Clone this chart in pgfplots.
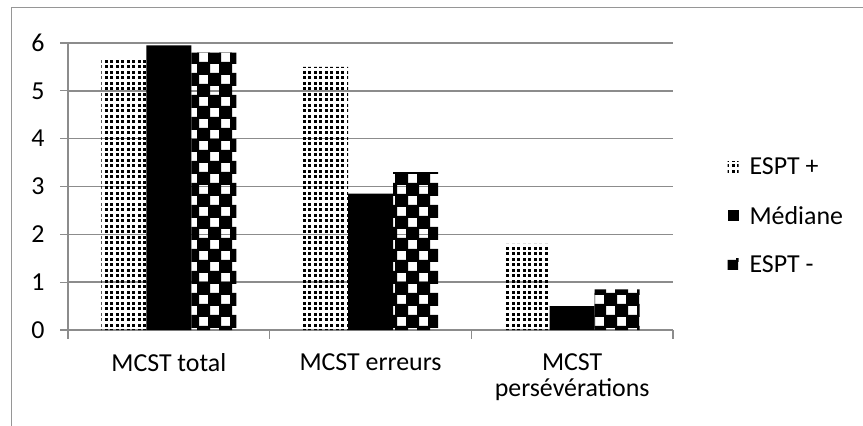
\documentclass[border=0pt]{standalone}
\usepackage{pgfplots}
\pgfplotsset{compat=1.18}
\usepackage{fontspec}
\setmainfont{Carlito}
\usetikzlibrary{patterns}

\definecolor{gridgray}{RGB}{140,140,140}
\definecolor{framegray}{RGB}{150,150,150}

% small dots, as in the ESPT + bars
\pgfdeclarepatternformonly{smalldots}{\pgfpoint{-1bp}{-1bp}}{\pgfpoint{6.5bp}{6.5bp}}{\pgfpoint{5.5bp}{5.5bp}}{
  \pgfpathrectangle{\pgfpoint{0bp}{0bp}}{\pgfpoint{3.1bp}{3.1bp}}
  \pgfusepath{fill}}
% large checkerboard, as in the ESPT - bars (cells drawn a touch large so that corners meet)
\pgfdeclarepatternformonly{bigchecker}{\pgfpoint{-2bp}{-2bp}}{\pgfpoint{24bp}{24bp}}{\pgfpoint{22bp}{22bp}}{
  \pgfpathrectangle{\pgfpoint{-1bp}{-1bp}}{\pgfpoint{13bp}{13bp}}
  \pgfpathrectangle{\pgfpoint{10bp}{10bp}}{\pgfpoint{13bp}{13bp}}
  \pgfusepath{fill}}

\begin{document}
\begin{tikzpicture}
\begin{axis}[
  at={(68bp,96bp)}, anchor=south west,
  scale only axis, width=605bp, height=287bp,
  ybar=0pt, bar width=45bp,
  xmin=-0.5, xmax=2.5, ymin=0, ymax=6,
  axis x line*=bottom, axis y line*=left,
  axis line style={-, gridgray, line width=1.2pt},
  xtick={0,1,2},
  xticklabels={MCST total, MCST erreurs, {MCST\\persévérations}},
  x tick style={draw=none},
  xticklabel style={align=center, yshift=-12pt, font=\fontsize{26}{26}\selectfont},
  extra x ticks={-0.5,0.5,1.5,2.5},
  extra x tick labels={},
  extra x tick style={x tick style={draw=gridgray, line width=1.2pt}, major tick length=9pt, tick align=outside, xmajorgrids=false},
  ytick={0,1,2,3,4,5,6},
  y tick style={gridgray, line width=1.2pt},
  tick align=outside, major tick length=8pt,
  ymajorgrids, grid style={gridgray, line width=1.5pt},
  yticklabel style={xshift=-12pt, font=\fontsize{26}{30}\selectfont},
  /pgf/number format/assume math mode=true,
  legend style={draw=none, fill=none, at={(1.085,0.397)}, anchor=west,
    font=\fontsize{26}{30}\selectfont, row sep=26pt,
    /tikz/every odd column/.append style={column sep=9pt}},
  legend cell align=left,
  legend image code/.code={\fill[#1] (0pt,-5pt) rectangle (11pt,6pt);},
]
\addplot[draw=none, pattern=smalldots, pattern color=black] coordinates {(0,5.65) (1,5.5) (2,1.8)};
\addplot[draw=none, fill=black] coordinates {(0,5.95) (1,2.85) (2,0.5)};
\addplot[draw=none, pattern=bigchecker, pattern color=black] coordinates {(0,5.8) (1,3.3) (2,0.85)};
\legend{ESPT +, Médiane, ESPT -}
\end{axis}
\draw[framegray, line width=1pt] (11bp,0bp) -- (11bp,418bp) -- (863bp,418bp);
\pgfresetboundingbox
\path[use as bounding box] (0bp,0bp) rectangle (863bp,426bp);
\end{tikzpicture}
\end{document}
